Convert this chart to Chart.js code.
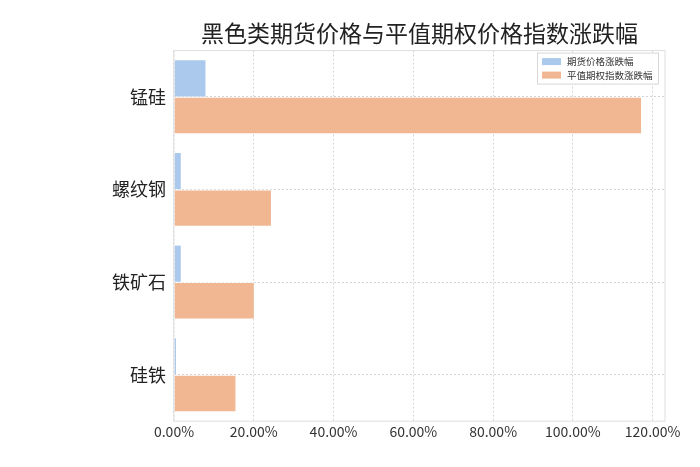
<!DOCTYPE html>
<html>
<head>
<meta charset="utf-8">
<script src="https://cdn.jsdelivr.net/npm/chart.js@4.4.0/dist/chart.umd.min.js"></script>
<style>
  html, body { margin: 0; padding: 0; background: #fff; }
  #wrap { width: 700px; height: 467px; }
</style>
</head>
<body>
<div id="wrap"><canvas id="chart"></canvas></div>
<script>
// values in percent
const categories = ['锰硅', '螺纹钢', '铁矿石', '硅铁'];
const futuresChange = [8.0, 1.8, 1.8, 0.6];
const optionIndexChange = [117.3, 24.5, 20.2, 15.6];
const xTicks = [0, 20, 40, 60, 80, 100, 120];

const FONT = '"Noto Sans CJK SC", "DejaVu Sans", sans-serif';

// light frame around the plot + legend inside the top right corner
const framePlugin = {
  id: 'frame',
  afterDraw(chart) {
    const { ctx, chartArea: a } = chart;
    ctx.save();
    ctx.strokeStyle = '#dedede';
    ctx.lineWidth = 1;
    ctx.strokeRect(a.left, a.top, a.right - a.left, a.bottom - a.top);

    const boxW = 122, boxH = 32;
    const bx = a.right - 6 - boxW, by = a.top + 2;
    ctx.fillStyle = 'rgba(255,255,255,0.85)';
    ctx.fillRect(bx, by, boxW, boxH);
    ctx.strokeStyle = '#d8d8d8';
    ctx.strokeRect(bx + 0.5, by + 0.5, boxW - 1, boxH - 1);
    ctx.font = '9.5px ' + FONT;
    ctx.textBaseline = 'middle';
    chart.data.datasets.forEach((ds, i) => {
      const cy = by + 9 + i * 13.5;
      ctx.fillStyle = ds.backgroundColor;
      ctx.fillRect(bx + 5, cy - 3.5, 19, 7);
      ctx.fillStyle = '#333';
      ctx.fillText(ds.label, bx + 30, cy);
    });
    ctx.restore();
  }
};

new Chart(document.getElementById('chart'), {
  type: 'bar',
  data: {
    labels: categories,
    datasets: [{
      label: '期货价格涨跌幅',
      data: futuresChange,
      backgroundColor: '#abc9ec',
      borderColor: '#ffffff',
      borderWidth: 0.4
    }, {
      label: '平值期权指数涨跌幅',
      data: optionIndexChange,
      backgroundColor: '#f0b792',
      borderColor: '#ffffff',
      borderWidth: 0.8
    }]
  },
  plugins: [framePlugin],
  options: {
    indexAxis: 'y',
    responsive: true,
    maintainAspectRatio: false,
    animation: false,
    layout: { padding: { top: 19, right: 35, bottom: 25, left: 104 } },
    datasets: {
      bar: { categoryPercentage: 0.8, barPercentage: 1.0 }
    },
    scales: {
      x: {
        min: 0,
        max: 123.1,
        afterBuildTicks: scale => { scale.ticks = xTicks.map(v => ({ value: v })); },
        border: { display: false, dash: [2, 2] },
        grid: { color: '#c8c8c8', lineWidth: 0.8, drawTicks: false },
        ticks: {
          padding: 2,
          color: '#333',
          font: { family: FONT, size: 14 },
          callback: v => v.toFixed(2) + '%'
        }
      },
      y: {
        border: { display: false, dash: [2, 2] },
        grid: { color: '#c8c8c8', lineWidth: 0.8, offset: false, drawTicks: false },
        ticks: {
          padding: 8,
          color: '#222',
          font: { family: FONT, size: 18 }
        }
      }
    },
    plugins: {
      title: {
        display: true,
        fullSize: false,
        text: '黑色类期货价格与平值期权价格指数涨跌幅',
        color: '#222',
        font: { family: FONT, size: 23, weight: 'normal' },
        padding: { top: 0, bottom: 4 }
      },
      legend: { display: false },
      tooltip: { enabled: false }
    }
  }
});
</script>
</body>
</html>
